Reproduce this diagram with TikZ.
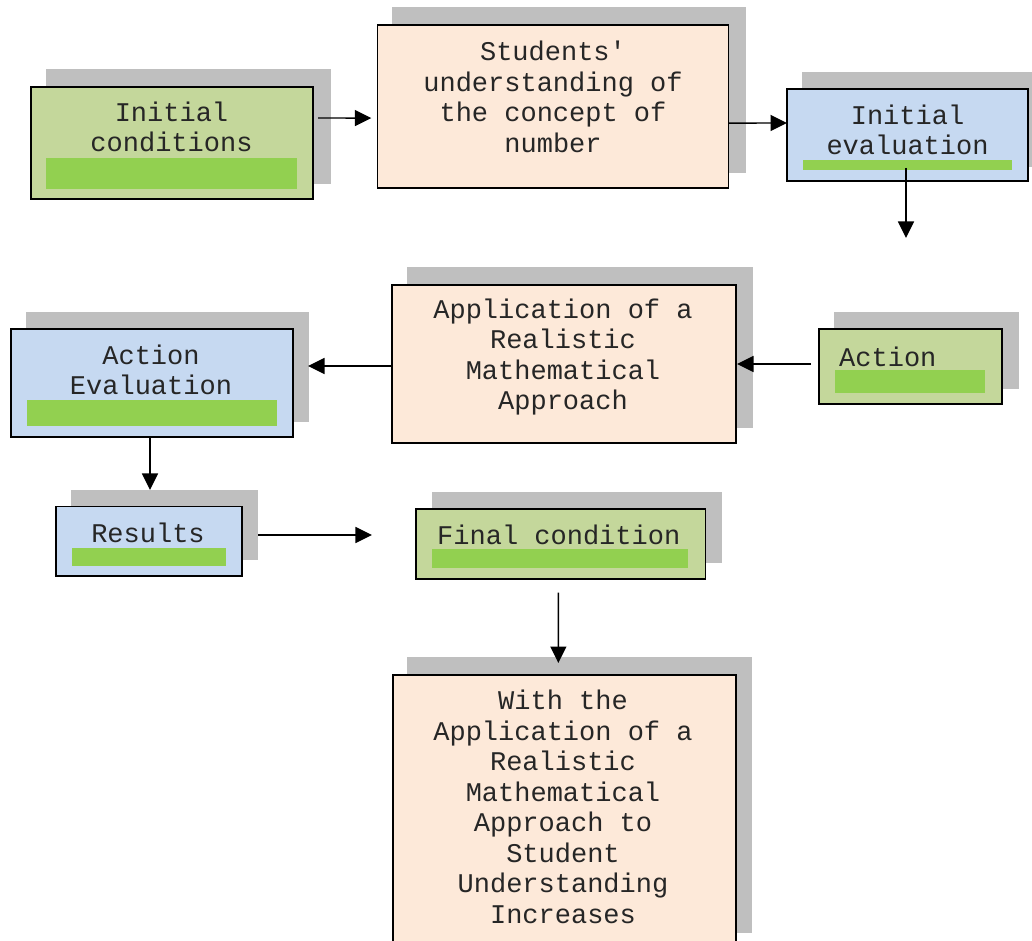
\documentclass[tikz,border=0pt]{standalone}
\usepackage{fontspec}
\newfontfamily\cournew{Liberation Mono}
\usetikzlibrary{arrows.meta}
\definecolor{greenbox}{RGB}{196,215,155}
\definecolor{greenbar}{RGB}{146,208,80}
\definecolor{bluebox}{RGB}{198,217,241}
\definecolor{peachbox}{RGB}{253,233,217}
\definecolor{shadowgray}{RGB}{191,191,191}
\tikzset{
  box/.style={draw=black, line width=1.6pt, inner sep=0pt, outer sep=0pt},
  shadowfill/.style={fill=shadowgray},
  barfill/.style={fill=greenbar},
  txt/.style={font=\cournew\fontsize{27}{30.5}\selectfont, align=center, inner sep=0pt, text=black!85},
  arr/.style={line width=1.4pt, -{Triangle[length=16.5pt,width=16pt]}}
}
\begin{document}
\begin{tikzpicture}[x=1pt,y=-1pt]
\useasboundingbox (0,0) rectangle (1032,941);
% shadows
\fill[shadowfill] (45.7,69.3) rectangle (330.7,184);
\fill[shadowfill] (392.3,7.3) rectangle (745.7,173.3);
\fill[shadowfill] (801.7,71.7) rectangle (1045,166.7);
\fill[shadowfill] (407,267) rectangle (753,428);
\fill[shadowfill] (834,312) rectangle (1019,389);
\fill[shadowfill] (26,312) rectangle (309,422);
\fill[shadowfill] (70.7,490) rectangle (258,560);
\fill[shadowfill] (431.7,491.7) rectangle (722.3,562.7);
\fill[shadowfill] (407,657) rectangle (752,932.7);
% front boxes
\node[box, fill=greenbox, minimum width=282pt, minimum height=112pt] (b1) at (172,143) {};
\node[box, fill=peachbox, minimum width=351pt, minimum height=163pt] (b2) at (552.8,106.6) {};
\node[box, fill=bluebox, minimum width=241pt, minimum height=92pt] (b3) at (907.5,135) {};
\node[box, fill=peachbox, minimum width=344pt, minimum height=158pt] (b4) at (564,364) {};
\node[box, fill=greenbox, minimum width=183pt, minimum height=75pt] (b5) at (910.5,366.5) {};
\node[box, fill=bluebox, minimum width=282pt, minimum height=108pt] (b6) at (152,383) {};
\node[box, fill=bluebox, minimum width=186pt, minimum height=69.3pt] (b7) at (148.7,541.3) {};
\node[box, fill=greenbox, minimum width=289.7pt, minimum height=70pt] (b8) at (560.8,544) {};
\node[box, fill=peachbox, minimum width=343.3pt, minimum height=270pt] (b9) at (564.35,810) {};
% green bars
\fill[barfill] (46,157.7) rectangle (296.7,189);
\fill[barfill] (803,160) rectangle (1012,170);
\fill[barfill] (835,370) rectangle (985,393);
\fill[barfill] (27,400) rectangle (277,426);
\fill[barfill] (72,548) rectangle (226,566);
\fill[barfill] (432,549) rectangle (688,567.7);
% texts
\node[txt] (t1) at (171.5,126.7) {Initial\\conditions};
\node[txt] (t2) at (553,96.7) {Students'\\understanding of\\the concept of\\number};
\node[txt] (t3) at (907.5,130) {Initial\\evaluation};
\node[txt] (t4) at (563,357) {Application of a\\Realistic\\Mathematical\\Approach};
\node[txt, anchor=west] (t5) at (839,357) {Action};
\node[txt] (t6) at (151,370) {Action\\Evaluation};
\node[txt] (t7) at (148,533) {Results};
\node[txt, anchor=west] (t8) at (437,535) {Final condition};
\node[txt] (t9) at (563,806.7) {With the\\Application of a\\Realistic\\Mathematical\\Approach to\\Student\\Understanding\\Increases};
% connectors
\coordinate (c3) at (906,238);
\draw[arr] ([xshift=5pt,yshift=25pt]b1.east) -- ([xshift=-6pt,yshift=-11.5pt]b2.west);
\draw[arr] ([yshift=-16.5pt]b2.east) -- ([yshift=12pt]b3.west);
\draw[arr] ([xshift=-1.5pt,yshift=13pt]b3.south) -- (c3);
\draw[arr] ([xshift=-8pt,yshift=2.5pt]b5.west) -- ([xshift=1pt]b4.east);
\draw[arr] ([yshift=-2pt]b4.west) -- ([xshift=15pt,yshift=17pt]b6.east);
\draw[arr] ([xshift=-2pt]b6.south) -- ([xshift=1.3pt,yshift=16.7pt]b7.north);
\draw[arr] ([xshift=16.3pt,yshift=6.3pt]b7.east) -- ([xshift=-44pt,yshift=9pt]b8.west);
\draw[arr] ([xshift=-2.5pt,yshift=-13.7pt]b8.south) -- ([xshift=-6pt,yshift=12pt]b9.north);
\end{tikzpicture}
\end{document}
